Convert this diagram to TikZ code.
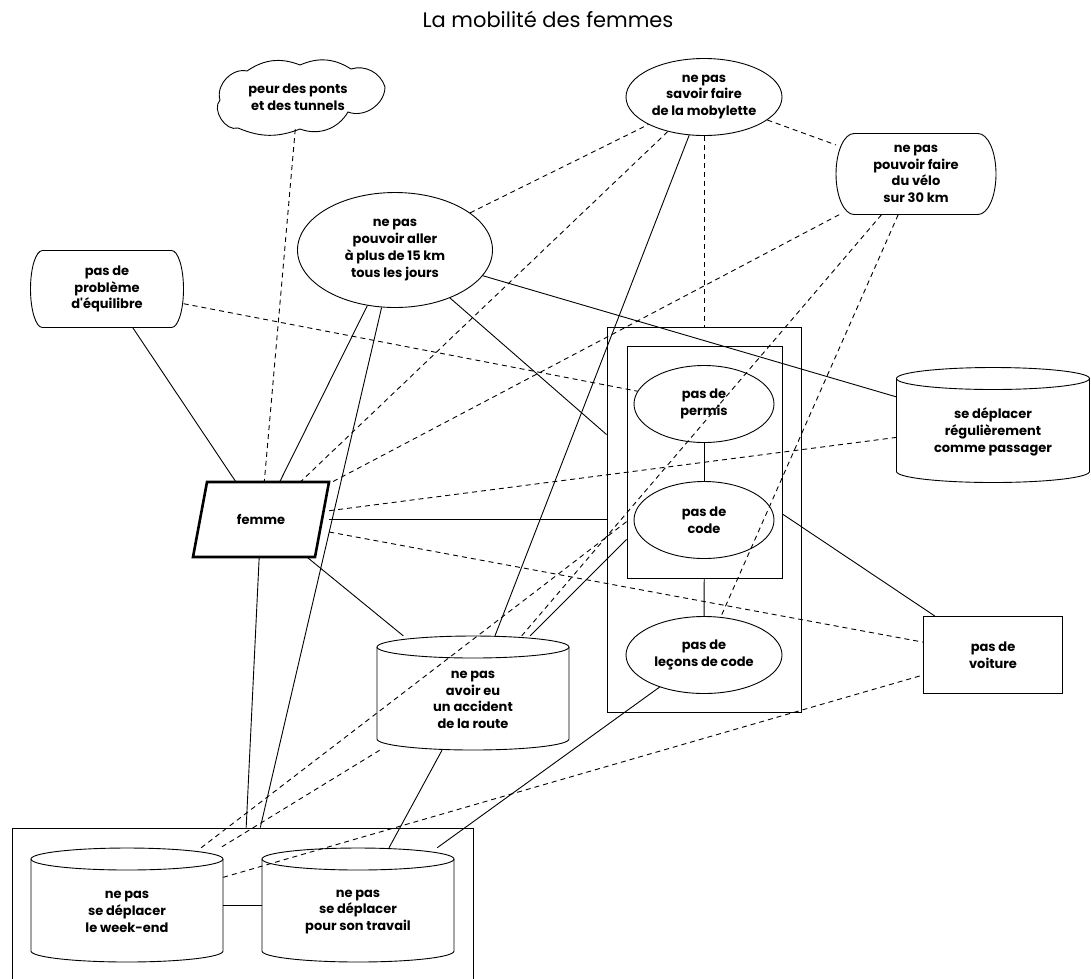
\documentclass[tikz,border=0pt]{standalone}
\usepackage{fontspec}
\setmainfont{Poppins}
\newfontfamily\nolig{Poppins}
\usetikzlibrary{shapes.geometric}
\tikzset{
  lnk/.style={line width=0.9pt},
  dsh/.style={line width=0.9pt, dash pattern=on 5pt off 4pt},
  txt/.style={align=center, font=\bfseries\fontsize{13}{16.7}\selectfont, inner sep=0pt},
  ell/.style={ellipse, draw, line width=0.9pt, align=center, font=\bfseries\fontsize{13}{16.7}\selectfont, inner sep=0pt},
  box/.style={rectangle, draw, line width=0.9pt, align=center, font=\bfseries\fontsize{13}{16.7}\selectfont, inner sep=0pt},
  hole/.style={rectangle, draw=none, inner sep=0pt},
  puff/.style={bend left=#1},
}
\newcommand{\mycyl}[6]{%
  \node[hole, minimum width=#4pt, minimum height=#5pt] (#1) at (#2,#3) {};
  \node[txt] (#1-t) at (#2,#3+7) {#6};
  \pgfmathsetmacro{\cxl}{#2-#4/2}\pgfmathsetmacro{\cxr}{#2+#4/2}%
  \pgfmathsetmacro{\cyt}{#3-#5/2+11}\pgfmathsetmacro{\cyb}{#3+#5/2-11}%
  \pgfmathsetmacro{\crx}{#4/2}%
  \draw[lnk] (#2,\cyt) ellipse [x radius={\crx*1pt}, y radius=11pt];
  \draw[lnk] (\cxl,\cyt) -- (\cxl,\cyb) arc[start angle=180, end angle=360, x radius={\crx*1pt}, y radius=11pt] -- (\cxr,\cyt);
}
\newcommand{\myround}[7]{% name x y w h inset text
  \node[hole, minimum width=#4pt, minimum height=#5pt] (#1) at (#2,#3) {};
  \node[txt] (#1-t) at (#2,#3) {#7};
  \pgfmathsetmacro{\rxl}{#2-#4/2+#6}\pgfmathsetmacro{\rxr}{#2+#4/2-#6}%
  \pgfmathsetmacro{\ryt}{#3-#5/2}\pgfmathsetmacro{\ryb}{#3+#5/2}%
  \pgfmathsetmacro{\rry}{#5/2}%
  \draw[lnk] (\rxl,\ryt) -- (\rxr,\ryt) arc[start angle=90, end angle=-90, x radius=#6pt, y radius={\rry*1pt}] -- (\rxl,\ryb) arc[start angle=270, end angle=90, x radius=#6pt, y radius={\rry*1pt}] -- cycle;
}
\begin{document}
\begin{tikzpicture}[x=1pt,y=-1pt]
\useasboundingbox (0,0) rectangle (1091,978);
\node[font=\fontsize{21}{24}\selectfont] (title) at (548,19) {La mobilité des femmes};

% cloud
\node[hole, minimum width=185pt, minimum height=62pt] (peur) at (298,98) {};
\node[txt] (peur-t) at (298,97) {peur des ponts\\et des tunnels};
\draw[lnk] (220,100) to[puff=60] (247,71) to[puff=28] (300,65) to[puff=28] (351,69)
  to[puff=45] (385,87) to[puff=55] (348,112) to[puff=40] (300,129)
  to[puff=22] (238,128) to[puff=75] cycle;

% nodes
\node[ell, minimum width=195pt, minimum height=115pt] (aller) at (395,250) {ne pas\\pouvoir aller\\à plus de 15 km\\tous les jours};
\node[ell, minimum width=156pt, minimum height=77pt] (mob) at (704,97) {ne pas\\savoir faire\\de la mobylette};
\myround{velo}{916}{174}{160}{81}{18}{ne pas\\pouvoir faire\\du vélo\\sur 30 km}
\myround{prob}{107}{289}{153}{77}{12}{pas de\\problème\\d{\nolig\bfseries'}équilibre}
\node[hole, minimum width=136pt, minimum height=75pt] (femme) at (261,519.5) {};
\draw[line width=2.6pt, line join=miter] (207,482) -- (329,482) -- (315,557) -- (193,557) -- cycle;
\node[txt] (femme-t) at (261,519.5) {femme};
\node[box, minimum width=194pt, minimum height=385pt] (outer) at (704,519.5) {};
\node[box, minimum width=155pt, minimum height=232pt] (inner) at (704.5,462) {};
\node[ell, minimum width=140pt, minimum height=77pt] (permis) at (704,404) {pas de\\permis};
\node[ell, minimum width=140pt, minimum height=77pt] (code) at (704,520) {pas de\\code};
\node[ell, minimum width=156pt, minimum height=77pt] (lecons) at (704,655) {pas de\\leçons de code};
\mycyl{pass}{993}{425}{193}{115}{se déplacer\\régulièrement\\comme passager}
\node[box, minimum width=139pt, minimum height=77pt] (voiture) at (993,655) {pas de\\voiture};
\mycyl{acc}{473}{693}{192}{114}{ne pas\\avoir eu\\un accident\\de la route}
\node[box, minimum width=461pt, minimum height=152pt] (group) at (242.5,904) {};
\mycyl{we}{127}{905}{192}{114}{ne pas\\se déplacer\\le week-end}
\mycyl{trav}{358}{905}{192}{114}{ne pas\\se déplacer\\pour son travail}

% solid connectors
\draw[lnk] (prob) -- (femme);
\draw[lnk] (aller) -- (femme);
\draw[lnk] (aller) -- (group);
\draw[lnk] (femme) -- (group);
\draw[lnk] (femme) -- (acc);
\draw[lnk] (femme) -- (outer);
\draw[lnk] (aller) -- (outer);
\draw[lnk] (aller) -- (pass);
\draw[lnk] (mob) -- (acc);
\draw[lnk] (inner) -- (voiture);
\draw[lnk] (permis) -- (code);
\draw[lnk] (inner) -- (lecons);
\draw[lnk] (inner) -- (acc);
\draw[lnk] (lecons) -- (trav);
\draw[lnk] (acc) -- (trav);
\draw[lnk] (we) -- (trav);

% dashed connectors
\draw[dsh] (peur) -- (femme);
\draw[dsh] (prob) -- (permis);
\draw[dsh] (aller) -- (mob);
\draw[dsh] (mob) -- (femme);
\draw[dsh] (mob) -- (outer);
\draw[dsh] (mob) -- (velo);
\draw[dsh] (velo) -- (femme);
\draw[dsh] (velo) -- (acc);
\draw[dsh] (velo) -- (lecons);
\draw[dsh] (femme) -- (pass);
\draw[dsh] (femme) -- (voiture);
\draw[dsh] (we) -- (voiture);
\draw[dsh] (inner) -- (we);
\draw[dsh] (acc) -- (we);
\end{tikzpicture}
\end{document}
